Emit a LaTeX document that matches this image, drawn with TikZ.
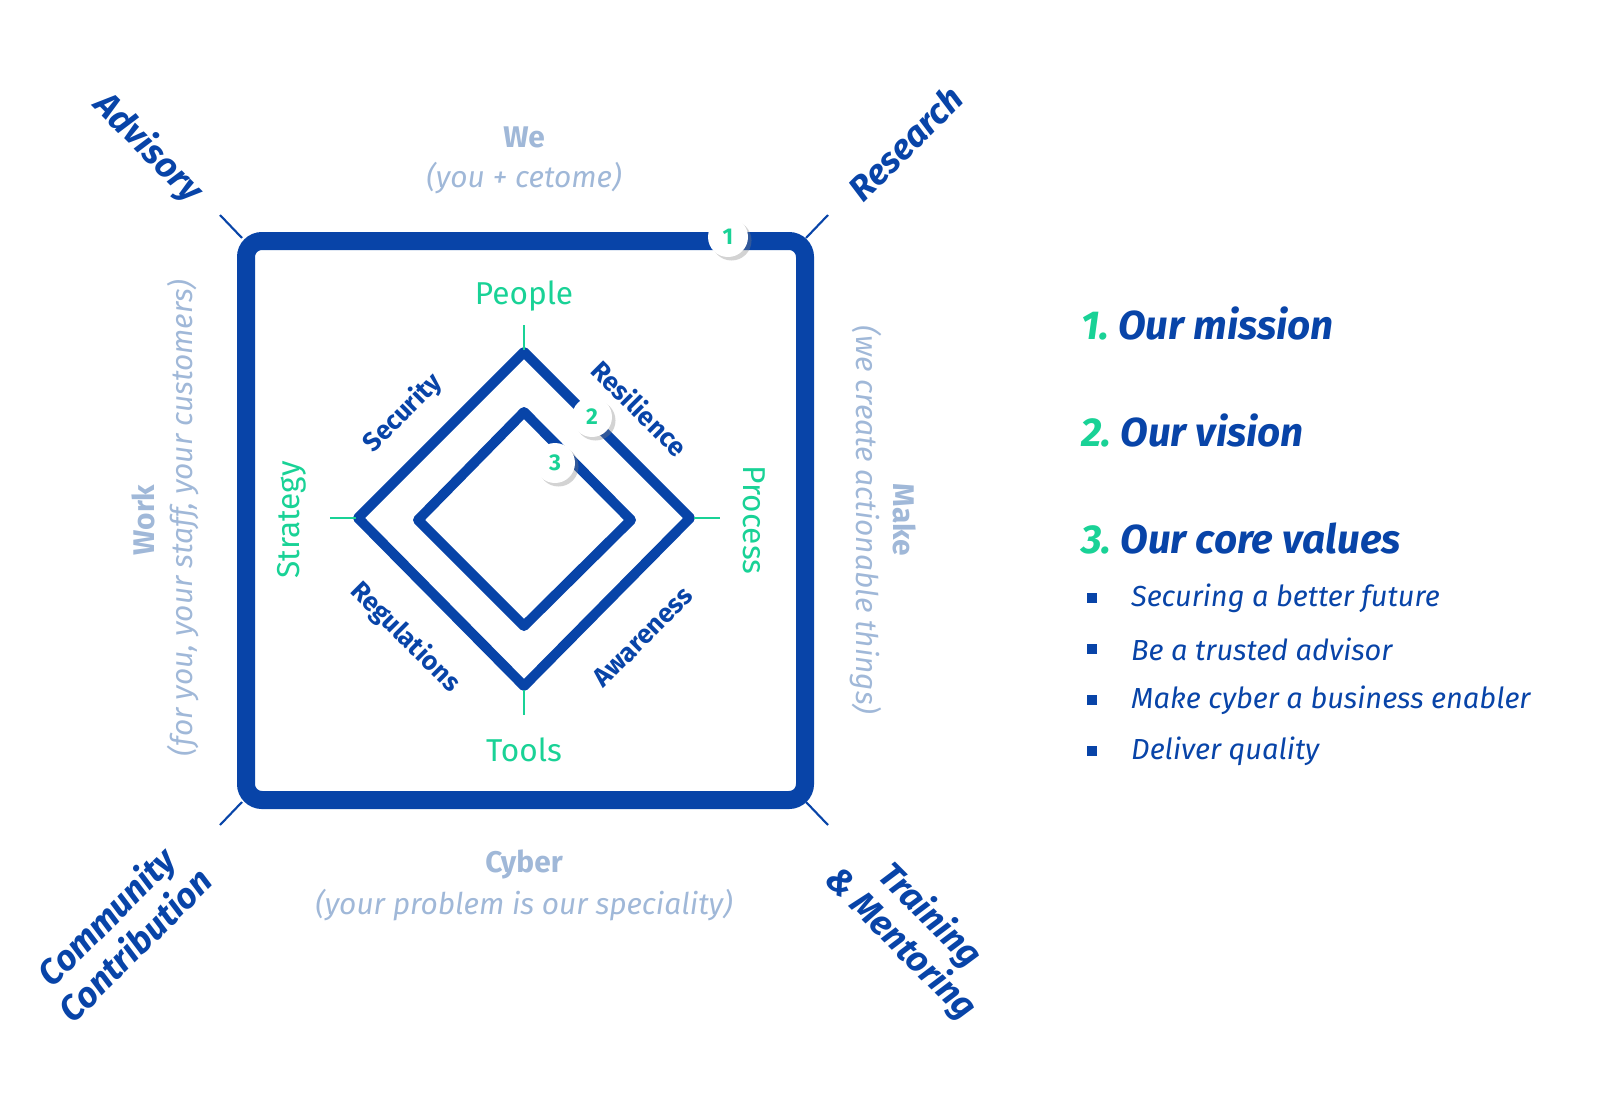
\documentclass[tikz,border=0pt]{standalone}
\usepackage{fontspec}
\setmainfont{Fira Sans}
\usetikzlibrary{shadows}
\definecolor{dblue}{RGB}{8,68,168}
\definecolor{grn}{RGB}{25,210,150}
\definecolor{lgray}{RGB}{160,184,216}
\begin{document}
\begin{tikzpicture}[x=0.02cm,y=-0.02cm,
  tick/.style={line width=1.2pt},
  num/.style={circle,fill=white,draw=none,minimum size=40*0.02cm,inner sep=0pt,text=grn,font=\bfseries\fontsize{13}{15}\selectfont,drop shadow={opacity=0.35,shadow xshift=2pt,shadow yshift=-2pt}},
  gl/.style={text=grn,font=\fontsize{18}{20}\selectfont},
  bl/.style={text=dblue,font=\bfseries\fontsize{15}{17}\selectfont},
  lb/.style={text=lgray,font=\bfseries\fontsize{17}{19}\selectfont},
  li/.style={text=lgray,font=\itshape\fontsize{17}{19}\selectfont},
  corner/.style={text=dblue,font=\bfseries\itshape\fontsize{20}{23}\selectfont,align=center},
  head/.style={anchor=west,text=dblue,font=\bfseries\itshape\fontsize{23}{26}\selectfont},
  bul/.style={anchor=west,text=dblue,font=\itshape\fontsize{16.5}{18}\selectfont}]
\useasboundingbox (0,0) rectangle (1604,1092);
% outer square
\draw[dblue,line width=18*0.02cm,rounded corners=16*0.02cm] (246,241) rectangle (805,800);
\coordinate (c1a) at (220,215); \coordinate (c1b) at (242,238);
\coordinate (c2a) at (828,215); \coordinate (c2b) at (806,238);
\coordinate (c3a) at (220,825); \coordinate (c3b) at (242,802);
\coordinate (c4a) at (828,825); \coordinate (c4b) at (806,802);
\draw[dblue,tick] (c1a)--(c1b); \draw[dblue,tick] (c2a)--(c2b);
\draw[dblue,tick] (c3a)--(c3b); \draw[dblue,tick] (c4a)--(c4b);
% diamonds
\draw[dblue,line width=10*0.02cm,line join=round] (524,352)--(690,518)--(524,686)--(358,518)--cycle;
\draw[dblue,line width=10*0.02cm,line join=round] (524,412)--(631,520)--(524,626)--(418,520)--cycle;
\draw[grn,tick] (524,325)--(524,350);
\draw[grn,tick] (330,518)--(356,518);
\draw[grn,tick] (694,518)--(720,518);
\draw[grn,tick] (524,690)--(524,715);
% numbers
\node[num] (n1) at (728,237) {1};
\node[num] (n2) at (592,417) {2};
\node[num] (n3) at (555,463) {3};
% inner labels
\node[gl] (people) at (524,296) {People};
\node[gl] (tools) at (524,750) {Tools};
\node[gl,rotate=90] (strategy) at (292,520) {Strategy};
\node[gl,rotate=-90] (process) at (754,520) {Process};
\node[bl,rotate=45] (security) at (403,413) {Security};
\node[bl,rotate=-45] (resil) at (640,408) {Resilience};
\node[bl,rotate=-45] (regul) at (405,637) {Regulations};
\node[bl,rotate=45] (aware) at (643,637) {Awareness};
% outer labels
\node[lb] (we) at (524,137) {We};
\node[li] (wes) at (524,178) {(you + cetome)};
\node[lb,rotate=90] (work) at (143,520) {Work};
\node[li,rotate=90] (works) at (183,518) {(for you, your staff, your customers)};
\node[lb,rotate=-90] (make) at (905,520) {Make};
\node[li,rotate=-90] (makes) at (866,520) {(we create actionable things)};
\node[lb] (cyber) at (524,864) {Cyber};
\node[li] (cybers) at (524,905) {(your problem is our speciality)};
\node[corner,rotate=-45] (adv) at (148,148) {Advisory};
\node[corner,rotate=45] (res) at (905,143) {Research};
\node[corner,rotate=45] (comm) at (120,930) {Community\\Contribution};
\node[corner,rotate=-45] (train) at (915,930) {Training\\\& Mentoring};
% right panel
\node[head] (h1) at (1075,323) {\textcolor{grn}{1.}~Our mission};
\node[head] (h2) at (1075,430) {\textcolor{grn}{2.}~Our vision};
\node[head] (h3) at (1075,538) {\textcolor{grn}{3.}~Our core values};
\foreach \y/\t in {598/Securing a better future,649/Be a trusted advisor,700/Make cyber a business enabler,751/Deliver quality}{
  \fill[dblue] (1087,\y-5) rectangle (1097,\y+5);
  \node[bul] at (1125,\y) {\t};
}
\end{tikzpicture}
\end{document}
